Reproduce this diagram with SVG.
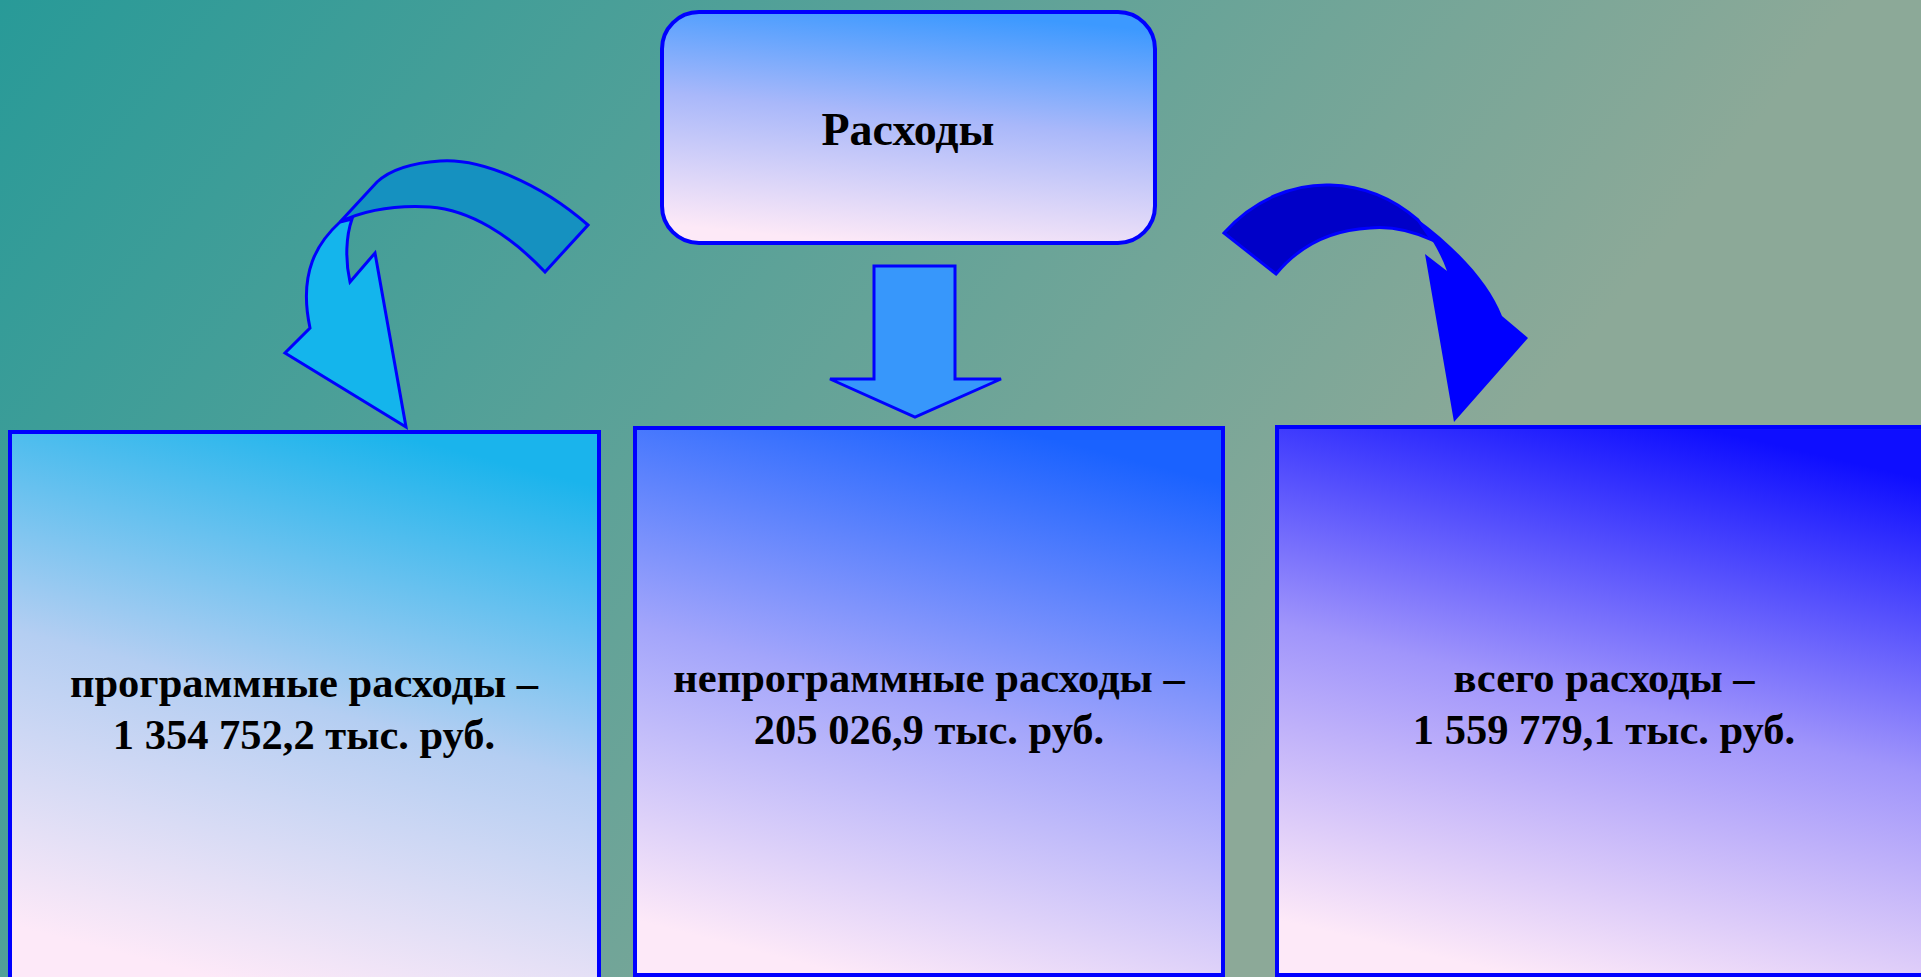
<svg xmlns="http://www.w3.org/2000/svg" width="1921" height="977" viewBox="0 0 1921 977">
<defs>
<linearGradient id="bg" gradientUnits="userSpaceOnUse" x1="0" y1="0" x2="1150" y2="900">
<stop offset="0" stop-color="#289A98"/><stop offset="1" stop-color="#8CA998"/>
</linearGradient>
<linearGradient id="gTop" x1="0.6" y1="0" x2="0.4" y2="1">
<stop offset="0" stop-color="#3C99FF"/><stop offset="0.45" stop-color="#A9B8FA"/><stop offset="1" stop-color="#FDE9F7"/>
</linearGradient>
<linearGradient id="gLeft" x1="0.64" y1="0" x2="0.36" y2="1">
<stop offset="0" stop-color="#1AB4EC"/><stop offset="0.5" stop-color="#B4CEF2"/><stop offset="1" stop-color="#FDE9F8"/>
</linearGradient>
<linearGradient id="gMid" x1="0.64" y1="0" x2="0.36" y2="1">
<stop offset="0" stop-color="#1A62FF"/><stop offset="0.5" stop-color="#A3A5FB"/><stop offset="1" stop-color="#FDE9F8"/>
</linearGradient>
<linearGradient id="gRight" x1="0.64" y1="0" x2="0.36" y2="1">
<stop offset="0" stop-color="#0E0EFF"/><stop offset="0.5" stop-color="#A095FB"/><stop offset="1" stop-color="#FDE9F8"/>
</linearGradient>
<style>
.box{stroke:#0000FF;stroke-width:4}
.txt{font-family:"Liberation Serif","Times New Roman",serif;font-weight:bold;fill:#000;text-anchor:middle}
.arr{stroke:#0000FF;stroke-width:3;stroke-linejoin:miter}
</style>
</defs>
<rect x="0" y="0" width="1921" height="977" fill="url(#bg)"/>

<g id="connectors">
  <g id="arrow-left">
    <path class="arr" fill="#14B5EC" d="M 340,222 C 318,242 298,272 310,328 L 285,353 L 406,427 L 375,253 L 350,282 C 345,260 346,236 352,219 Z"/>
    <path class="arr" fill="#1591C0" d="M 588,225 C 540,183 480,158 440,161 C 410,163 390,170 377,182 L 340,222 C 365,210 395,205 430,207 C 470,210 510,235 545,272 Z"/>
  </g>
  <g id="arrow-down">
    <path class="arr" fill="#3797FB" d="M 874,266 L 955,266 L 955,379 L 1001,379 L 915,417 L 830,379 L 874,379 Z"/>
  </g>
  <g id="arrow-right">
    <path fill="#0000FF" d="M 1416,218 C 1460,250 1490,285 1502,316 L 1528,338 L 1454,422 L 1425,254 L 1447,271 C 1443,260 1438,250 1432,240 Z"/>
    <path class="arr" fill="#0000C8" d="M 1224,233 C 1255,198 1295,184 1330,185 C 1365,186 1395,200 1418,220 L 1432,240 C 1410,230 1390,226 1370,228 C 1330,230 1300,245 1276,274 Z"/>
  </g>
</g>

<g id="node-top">
  <rect class="box" x="662" y="12" width="493" height="231" rx="37" ry="37" fill="url(#gTop)"/>
  <text class="txt" x="908" y="145" font-size="46">Расходы</text>
</g>
<g id="node-program">
  <rect class="box" x="10" y="432" width="589" height="548" fill="url(#gLeft)"/>
  <text class="txt" x="304" y="697" font-size="42.5">программные расходы –</text>
  <text class="txt" x="304" y="749" font-size="42.5">1 354 752,2 тыс. руб.</text>
</g>
<g id="node-nonprogram">
  <rect class="box" x="635" y="428" width="588" height="547" fill="url(#gMid)"/>
  <text class="txt" x="929" y="692" font-size="42.5">непрограммные расходы –</text>
  <text class="txt" x="929" y="744" font-size="42.5">205 026,9 тыс. руб.</text>
</g>
<g id="node-total">
  <rect class="box" x="1277" y="427" width="660" height="548" fill="url(#gRight)"/>
  <text class="txt" x="1604" y="692" font-size="42.5">всего расходы –</text>
  <text class="txt" x="1604" y="744" font-size="42.5">1 559 779,1 тыс. руб.</text>
</g>
</svg>
